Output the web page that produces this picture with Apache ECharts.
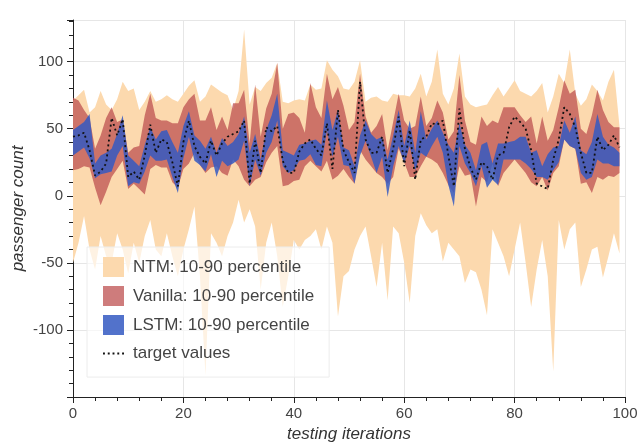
<!DOCTYPE html>
<html>
<head>
<meta charset="utf-8">
<script src="https://cdn.jsdelivr.net/npm/echarts@6/dist/echarts.min.js"></script>
<style>
  html, body { margin: 0; padding: 0; background: #fff; }
  #chart { width: 638px; height: 445px; }
</style>
</head>
<body>
<div id="chart"></div>
<script>
// values, one per testing iteration 0..99
const target = [44,45,47,34,15,18,24,58,45,57,14,18,12,30,53,32,42,40,25,7,
  40,56,37,29,24,41,30,39,44,46,48,56,9,41,17,51,48,52,26,17,
  17,33,39,42,35,30,54,20,64,34,25,17,85,42,32,32,44,17,35,59,
  22,49,12,42,44,54,53,56,30,7,65,35,21,12,25,22,12,30,32,51,
  59,55,50,34,9,7,5,27,42,66,61,51,32,17,17,44,34,38,45,36];

const lstmHigh = [49,52,55,61,24,30,32,35,46,60,30,26,22,38,51,42,48,49,40,32,
  52,63,45,41,35,44,32,43,37,40,46,59,32,46,27,49,60,76,34,32,
  30,38,39,41,42,38,71,49,64,36,34,22,45,56,46,42,44,27,45,64,
  37,56,32,63,42,50,56,47,38,32,54,38,32,19,38,40,24,39,39,40,
  41,44,44,32,34,22,31,36,37,56,47,59,34,31,40,61,44,38,36,32];
const lstmLow = [30,33,36,28,13,16,17,18,30,37,7,10,9,18,30,26,26,27,14,2,
  28,44,26,23,18,31,14,26,22,24,27,41,7,27,15,32,40,56,22,17,
  19,26,27,31,23,22,49,29,44,23,22,9,30,41,29,17,29,-1,22,37,
  24,37,19,32,29,37,44,32,8,-8,37,24,17,7,22,6,12,8,27,27,
  27,27,24,20,14,14,12,19,25,42,37,35,17,12,14,27,24,24,22,22];

const vanillaHigh = [73,71,64,58,35,45,58,66,55,57,32,36,37,60,76,58,56,56,54,54,
  66,72,76,56,56,66,49,59,49,69,69,79,39,83,44,65,76,99,50,61,
  62,58,47,84,66,58,91,72,81,67,49,55,91,59,47,52,61,34,55,76,
  56,50,52,74,52,58,71,62,42,48,90,56,40,38,59,52,56,54,66,66,
  66,60,55,59,39,59,41,49,66,86,76,79,50,46,60,79,64,55,51,51];
const vanillaLow = [19,20,22,21,6,-7,3,14,20,26,5,9,5,1,20,23,21,21,10,6,
  20,24,32,23,17,21,22,17,15,27,22,12,7,12,14,25,32,37,7,8,
  11,12,22,26,22,18,26,12,15,20,14,9,34,27,22,17,14,9,14,35,
  25,14,14,22,29,27,24,17,8,2,22,15,16,-8,14,10,24,7,17,22,
  27,22,17,10,7,14,4,17,22,42,37,35,9,10,2,14,12,15,14,17];

const ntmHigh = [71,75,79,62,66,78,68,64,72,85,78,80,64,70,78,70,72,75,72,70,
  76,82,86,70,74,83,80,77,75,64,78,124,68,81,78,84,88,99,70,69,
  71,72,71,83,79,80,101,94,89,80,79,85,101,70,73,74,71,70,76,75,
  75,74,80,91,74,85,109,76,68,80,106,74,68,66,67,68,75,81,74,80,
  86,78,76,74,78,84,62,74,91,84,109,76,67,72,83,78,71,85,94,52];
const ntmLow = [-50,-35,-15,-40,-55,-30,-45,-50,-28,-40,-58,-35,-50,-30,-18,-40,-45,-28,-45,-60,
  -40,-25,-8,-60,-134,-28,-35,-45,-30,-20,-3,-20,-10,-23,-70,-35,-20,-45,-83,-60,
  -33,-40,-33,-30,-25,-40,-23,-35,-90,-60,-56,-40,-30,-23,-45,-68,-35,-78,-23,-28,
  -50,-80,-30,-13,-22,-28,-25,-49,-35,-40,-45,-65,-55,-57,-70,-89,-25,-35,-45,-60,
  -40,-20,-50,-83,-55,-33,-60,-131,-18,-40,-25,-20,-68,-55,-40,-38,-61,-45,-28,-43];

const iterations = Array.from({ length: 101 }, (_, i) => String(i));
const yMajor = [-100, -50, 0, 50, 100];

const font = 'Liberation Sans, Arial, sans-serif';
const dottedIcon = 'path://M0,0L0,0M0,20L0,20M0,9h2v2h-2zM5,9h2v2h-2zM10,9h2v2h-2zM15,9h2v2h-2zM20,9h2v2h-2z';

function band(name, low, high, color) {
  return [
    {
      name: name + ' low', type: 'line', stack: name, stackStrategy: 'all',
      data: low, symbol: 'none', silent: true,
      lineStyle: { opacity: 0 }
    },
    {
      name: name, type: 'line', stack: name, stackStrategy: 'all',
      data: high.map((h, i) => h - low[i]), symbol: 'none', silent: true,
      lineStyle: { opacity: 0 },
      itemStyle: { color: color },
      areaStyle: { color: color, opacity: 1 }
    }
  ];
}

const chart = echarts.init(document.getElementById('chart'));
chart.setOption({
  animation: false,
  backgroundColor: '#fff',
  grid: { left: 73, right: 13, top: 20, bottom: 48, outerBoundsMode: 'none' },
  xAxis: [
    { type: 'category', data: iterations, boundaryGap: false, show: false },
    {
      type: 'value', min: 0, max: 100, interval: 20, position: 'bottom',
      name: 'testing iterations', nameLocation: 'middle', nameGap: 28,
      nameTextStyle: { fontSize: 17, fontStyle: 'italic', color: '#333', fontFamily: font },
      axisLine: { show: true, onZero: false, lineStyle: { color: '#222', width: 1 } },
      axisTick: { show: true, length: 6, lineStyle: { color: '#222' } },
      minorTick: { show: true, splitNumber: 5, length: 4, lineStyle: { color: '#222' } },
      axisLabel: { fontSize: 15, color: '#444', margin: 9, fontFamily: font },
      splitLine: { show: true, lineStyle: { color: '#e6e6e6' } }
    }
  ],
  yAxis: [
    {
      type: 'value', min: -150, max: 131, interval: 50, position: 'left',
      name: 'passenger count', nameLocation: 'middle', nameGap: 46, nameMoveOverlap: false,
      nameTextStyle: { fontSize: 17, fontStyle: 'italic', color: '#333', fontFamily: font },
      axisLine: { show: true, onZero: false, lineStyle: { color: '#222', width: 1 } },
      axisTick: { show: true, length: 6, lineStyle: { color: '#222' } },
      axisLabel: { fontSize: 15, color: '#444', margin: 10, fontFamily: font, customValues: yMajor },
      splitLine: { show: true, lineStyle: { color: '#e6e6e6' } }
    },
    {
      type: 'value', min: -150, max: 131, interval: 10, position: 'left',
      axisLine: { show: false, onZero: false },
      axisTick: { show: true, length: 4, lineStyle: { color: '#222' } },
      axisLabel: { show: false },
      splitLine: { show: false }
    }
  ],
  legend: {
    orient: 'vertical', left: 87, top: 247,
    padding: [10, 15, 14, 16],
    itemWidth: 21, itemHeight: 20, itemGap: 9,
    backgroundColor: 'rgba(255,255,255,0.65)',
    borderColor: '#ececec', borderWidth: 1,
    textStyle: { fontSize: 17, color: '#444', fontFamily: font, padding: [0, 0, 0, 4] },
    data: [
      { name: 'NTM: 10-90 percentile', icon: 'rect' },
      { name: 'Vanilla: 10-90 percentile', icon: 'rect' },
      { name: 'LSTM: 10-90 percentile', icon: 'rect' },
      { name: 'target values', icon: dottedIcon }
    ]
  },
  series: [
    ...band('NTM: 10-90 percentile', ntmLow, ntmHigh, '#fcd9ae'),
    ...band('Vanilla: 10-90 percentile', vanillaLow, vanillaHigh, 'rgba(190,80,80,0.75)'),
    ...band('LSTM: 10-90 percentile', lstmLow, lstmHigh, 'rgba(52,89,194,0.85)'),
    {
      name: 'target values', type: 'line', data: target, symbol: 'none', silent: true,
      z: 5,
      lineStyle: { color: '#111', width: 1.8, type: [2, 3] },
      itemStyle: { color: '#111' }
    }
  ]
});
</script>
</body>
</html>
